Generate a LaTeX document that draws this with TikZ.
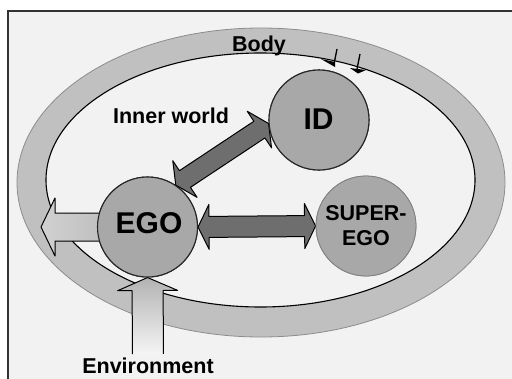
\documentclass[tikz,border=0pt]{standalone}
\usepackage{fontspec}
\setmainfont{Liberation Sans}
\usetikzlibrary{calc}
\definecolor{bgc}{HTML}{F2F2F2}
\definecolor{ringc}{HTML}{C0C0C0}
\definecolor{circc}{HTML}{A8A8A8}
\definecolor{darkarr}{HTML}{6E6E6E}
\definecolor{shadc}{HTML}{CACACA}
\tikzset{
  circnode/.style={circle, draw=black!85, line width=1.1pt, fill=circc, minimum size=100pt, inner sep=0pt},
  lbl/.style={anchor=base, inner sep=0pt, font=\bfseries},
  darkblk/.style={fill=darkarr, draw=black, line width=1pt, line join=round},
  shadblk/.style={fill=shadc},
}
% double block arrow: #1 A, #2 B, #3 head length, #4 shaft half width, #5 head half width, #6 style
\newcommand\dblblock[6]{%
  \path[#6] (#1)
   -- ($(#1)!#3!(#2)!#5!90:(#2)$) -- ($(#1)!#3!(#2)!#4!90:(#2)$)
   -- ($(#2)!#3!(#1)!#4!-90:(#1)$) -- ($(#2)!#3!(#1)!#5!-90:(#1)$)
   -- (#2)
   -- ($(#2)!#3!(#1)!#5!90:(#1)$) -- ($(#2)!#3!(#1)!#4!90:(#1)$)
   -- ($(#1)!#3!(#2)!#4!-90:(#2)$) -- ($(#1)!#3!(#2)!#5!-90:(#2)$)
   -- cycle;}
% single block arrow: #1 tail, #2 tip
\newcommand\sglblock[6]{%
  \path[#6] ($(#1)!#4!90:(#2)$)
   -- ($(#2)!#3!(#1)!#4!-90:(#1)$) -- ($(#2)!#3!(#1)!#5!-90:(#1)$)
   -- (#2)
   -- ($(#2)!#3!(#1)!#5!90:(#1)$) -- ($(#2)!#3!(#1)!#4!90:(#1)$)
   -- ($(#1)!#4!-90:(#2)$) -- cycle;}
\begin{document}
\begin{tikzpicture}[x=1pt,y=-1pt]
\clip (0,0) rectangle (512,378);
\fill[white] (0,0) rectangle (512,378);
\fill[bgc] (8,11) rectangle (530,400);
\draw[black!80, line width=2pt] (8,400) -- (8,11) -- (530,11);
% body ring
\fill[ringc, even odd rule] (261,182.5) ellipse [x radius=244pt, y radius=154.5pt]
  (260.5,180) ellipse [x radius=214.5pt, y radius=127pt];
\draw[black!45, line width=0.8pt] (261,182.5) ellipse [x radius=244pt, y radius=154.5pt];
\draw[black, line width=1.1pt] (260.5,180) ellipse [x radius=214.5pt, y radius=127pt];
% circles (positions)
\node[circnode] (ID) at (319,120) {};
\node[circnode] (EGO) at (147.5,227) {};
\node[circnode, draw=black!50, line width=0.8pt] (SE) at (366,226) {};
% small marks into ID
\draw[line width=1.3pt] (337,49) -- (334,64);
\fill (321,59) -- (335,62) -- (335,67) -- cycle;
\draw[line width=1.3pt] (360,54) -- (357,69);
\fill (350,68) -- (366,70) -- (358,73.5) -- cycle;
% coordinates for free ends
\coordinate (outL) at (41,227);
\coordinate (envB) at (148,354);
% shadows
\begin{scope}[shift={(5,8)}]
  \dblblock{EGO.56}{ID.184}{11pt}{10pt}{22pt}{shadblk}
  \dblblock{EGO.east}{SE.west}{11pt}{10.5pt}{22.5pt}{shadblk}
\end{scope}
% dark double arrows
\dblblock{EGO.56}{ID.184}{11pt}{10pt}{22pt}{darkblk}
\dblblock{EGO.east}{SE.west}{11pt}{10.5pt}{22.5pt}{darkblk}
% light arrows
\sglblock{EGO.center}{outL}{14pt}{14pt}{29pt}{left color=black!18, right color=black!30, draw=black, line width=1pt, line join=round}
\sglblock{envB}{EGO.south}{13pt}{15.5pt}{30pt}{top color=black!30, bottom color=black!4}
\path[draw=black, line width=1pt, line join=round]
  ($(envB)!15.5pt!90:(EGO.south)$)
   -- ($(EGO.south)!13pt!(envB)!15.5pt!-90:(envB)$) -- ($(EGO.south)!13pt!(envB)!30pt!-90:(envB)$)
   -- (EGO.south)
   -- ($(EGO.south)!13pt!(envB)!30pt!90:(envB)$) -- ($(EGO.south)!13pt!(envB)!15.5pt!90:(envB)$)
   -- ($(envB)!15.5pt!-90:(EGO.south)$);
% redraw circles on top
\node[circnode] at (ID) {};
\node[circnode] at (EGO) {};
\node[circnode, draw=black!50, line width=0.8pt] at (SE) {};
% texts
\node[lbl, font=\bfseries\fontsize{30}{30}\selectfont] (tID) at (318.5,129) {ID};
\node[lbl, font=\bfseries\fontsize{30}{30}\selectfont] (tEGO) at (149,233) {EGO};
\node[lbl, font=\bfseries\fontsize{21.5}{21.5}\selectfont] (tSE1) at (366,220) {SUPER-};
\node[lbl, font=\bfseries\fontsize{21.5}{21.5}\selectfont] (tSE2) at (366,245) {EGO};
\node[lbl, font=\bfseries\fontsize{21.5}{21.5}\selectfont] (tBody) at (259,51) {Body};
\node[lbl, font=\bfseries\fontsize{21.5}{21.5}\selectfont] (tIW) at (171,123) {Inner world};
\node[lbl, font=\bfseries\fontsize{21.5}{21.5}\selectfont] (tEnv) at (148,373) {Environment};
\end{tikzpicture}
\end{document}
